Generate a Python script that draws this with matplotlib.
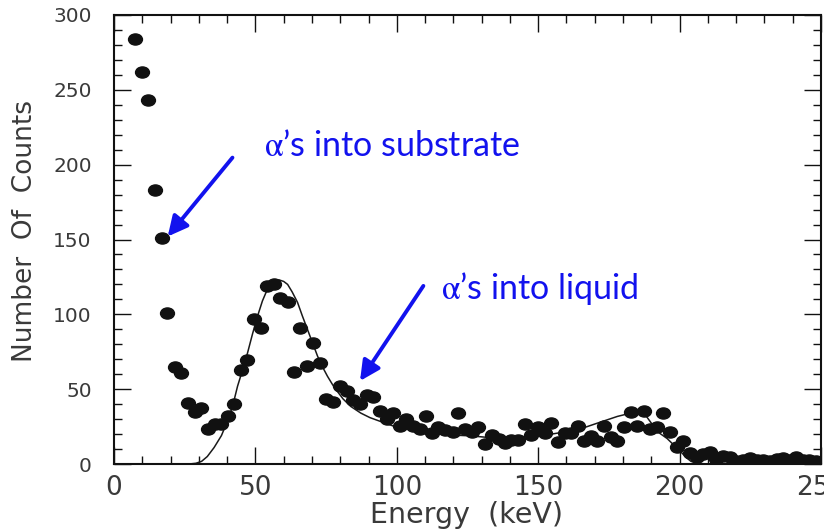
import matplotlib
matplotlib.use("Agg")
import matplotlib.pyplot as plt
import numpy as np
from matplotlib.path import Path
from matplotlib.ticker import MultipleLocator

plt.rcParams['mathtext.fontset'] = 'stix'

# measured spectrum (energy in keV, number of counts)
energy = [7.4, 9.8, 12.1, 14.5, 16.9, 18.9, 21.6, 23.8, 26.1, 28.5,
          30.7, 33.1, 35.7, 38.0, 40.2, 42.4, 44.9, 47.2, 49.6, 51.9,
          54.0, 56.6, 58.8, 61.4, 63.5, 65.8, 68.2, 70.5, 72.9, 75.1,
          77.6, 79.9, 82.3, 84.6, 87.0, 89.3, 91.7, 94.0, 96.4, 98.7,
          101.0, 103.4, 105.8, 108.1, 110.4, 112.5, 114.7, 117.2, 119.7, 121.8,
          124.0, 126.7, 128.8, 131.2, 133.6, 136.0, 138.2, 140.5, 142.9, 145.3,
          147.6, 150.0, 152.3, 154.7, 157.0, 159.4, 161.7, 164.1, 166.3, 168.6,
          170.9, 173.3, 175.6, 178.0, 180.3, 182.7, 185.0, 187.4, 189.6, 192.1,
          194.2, 196.6, 198.9, 201.2, 203.6, 206.0, 208.3, 210.7, 213.0, 215.4,
          217.8, 220.0, 222.5, 224.8, 227.2, 229.6, 231.9, 234.3, 236.6, 239.0,
          241.1, 243.5, 245.8, 248.2]
counts = [284, 262, 243, 183, 151, 101, 64.6, 60.6, 40.5, 34.7,
          37.6, 23.3, 27, 27, 31.8, 39.8, 62.9, 69.8, 97, 90.8,
          119, 120.6, 111.2, 108.3, 61.7, 90.8, 65.8, 80.8, 67.8, 43.4,
          41.5, 51.9, 48.6, 42.5, 40, 45.8, 44.8, 35.6, 30.4, 34,
          25.5, 30, 25.5, 23.7, 32.4, 21, 25, 22.8, 21.7, 34,
          23.5, 21.5, 24.6, 13.4, 19.5, 17, 14.3, 16.1, 16.1, 26.6,
          19.5, 24.6, 20.6, 27.7, 14.8, 21, 20.6, 25.5, 15.4, 19,
          15.4, 25.5, 18.3, 15.4, 24.4, 34.7, 25.5, 35.6, 23.5, 24.4,
          34, 21.7, 11.6, 15.4, 7.6, 4.9, 6.7, 8.3, 3.4, 5.4,
          4.5, 2.2, 2.7, 3.8, 2.7, 2.7, 2.2, 3.1, 3.8, 2.7,
          4.9, 2.7, 2.7, 2.2]

# fitted curve
fit_e = [26.5, 29, 31, 33, 35.4, 38, 40.2, 42, 43.7, 45.5,
         47.2, 49, 50.8, 52.5, 54.3, 56.3, 58.4, 60, 61.4, 63,
         64.9, 66.6, 68.4, 70.2, 72, 73.7, 75.5, 77.3, 79, 81,
         83.7, 87.3, 90.5, 94.3, 100.2, 108.5, 117.9, 126.1, 135.6, 145,
         154.4, 163.9, 170.9, 178, 182.7, 186.2, 188, 190.5, 193, 195.6,
         197.5, 199.2, 201, 202.7, 204, 205.5, 208, 212]
fit_c = [0, 0.5, 1.8, 5, 11, 19, 29, 39, 52, 63,
         74, 87, 99, 109, 117, 121.5, 123, 122, 120, 115,
         108, 99, 90, 81, 72, 65, 58.6, 53, 48.5, 43.5,
         38.5, 34, 31, 28.4, 24.4, 21.7, 19.5, 18.8, 17.2, 18.3,
         19.9, 22.8, 27.3, 31.8, 34, 34, 32.5, 26, 20.5, 17,
         13.5, 10.5, 7, 3.8, 1.8, 0.8, 0.2, 0]

label_color = '#3a3a3a'
blue = '#1212ee'

fig = plt.figure(figsize=(8.24, 5.30), dpi=100)
ax = fig.add_axes([0.1383, 0.1245, 0.8581, 0.8472])

# slightly flattened round marker, like the original plot symbols
circ = Path.unit_circle()
ellipse = Path(circ.vertices * [1.0, 0.8], circ.codes)

ax.plot(energy, counts, linestyle='none', marker=ellipse, markersize=10,
        color='#111111', zorder=3)
ax.plot(fit_e, fit_c, color='#1a1a1a', lw=1.1, zorder=2)

ax.set_xlim(0, 250)
ax.set_ylim(0, 300)
ax.xaxis.set_major_locator(MultipleLocator(50))
ax.xaxis.set_minor_locator(MultipleLocator(10))
ax.yaxis.set_major_locator(MultipleLocator(50))
ax.yaxis.set_minor_locator(MultipleLocator(10))
ax.tick_params(which='both', direction='in', top=True, right=True,
               width=1.0, color='#111111')
ax.tick_params(which='major', length=12)
ax.tick_params(which='minor', length=6)
ax.tick_params(axis='x', which='major', labelsize=19, pad=8,
               labelcolor=label_color)
ax.tick_params(axis='y', which='major', labelsize=14.5, pad=16,
               labelcolor=label_color)
for s in ax.spines.values():
    s.set_linewidth(1.5)
    s.set_color('#111111')

ax.set_xlabel('Energy  (keV)', fontsize=20.5, color=label_color)
ax.xaxis.set_label_coords(0.499, -0.082)
ax.set_ylabel('Number  Of  Counts', fontsize=19, color=label_color)
ax.yaxis.set_label_coords(-0.107, 0.52)

# annotations
ax.text(53, 206, r'$\mathrm{\alpha}$’s into substrate', fontsize=24.5,
        color=blue, family='Lato', ha='left', va='baseline')
ax.annotate('', xy=(19, 152), xytext=(41.9, 204.7),
            arrowprops=dict(arrowstyle='-|>', lw=2.8, color=blue,
                            mutation_scale=30, shrinkA=0, shrinkB=0))
ax.text(115.5, 110, r'$\mathrm{\alpha}$’s into liquid', fontsize=24.5,
        color=blue, family='Lato', ha='left', va='baseline')
ax.annotate('', xy=(87, 55.5), xytext=(109.4, 119),
            arrowprops=dict(arrowstyle='-|>', lw=2.8, color=blue,
                            mutation_scale=30, shrinkA=0, shrinkB=0))

fig.savefig('out.png', dpi=100)
